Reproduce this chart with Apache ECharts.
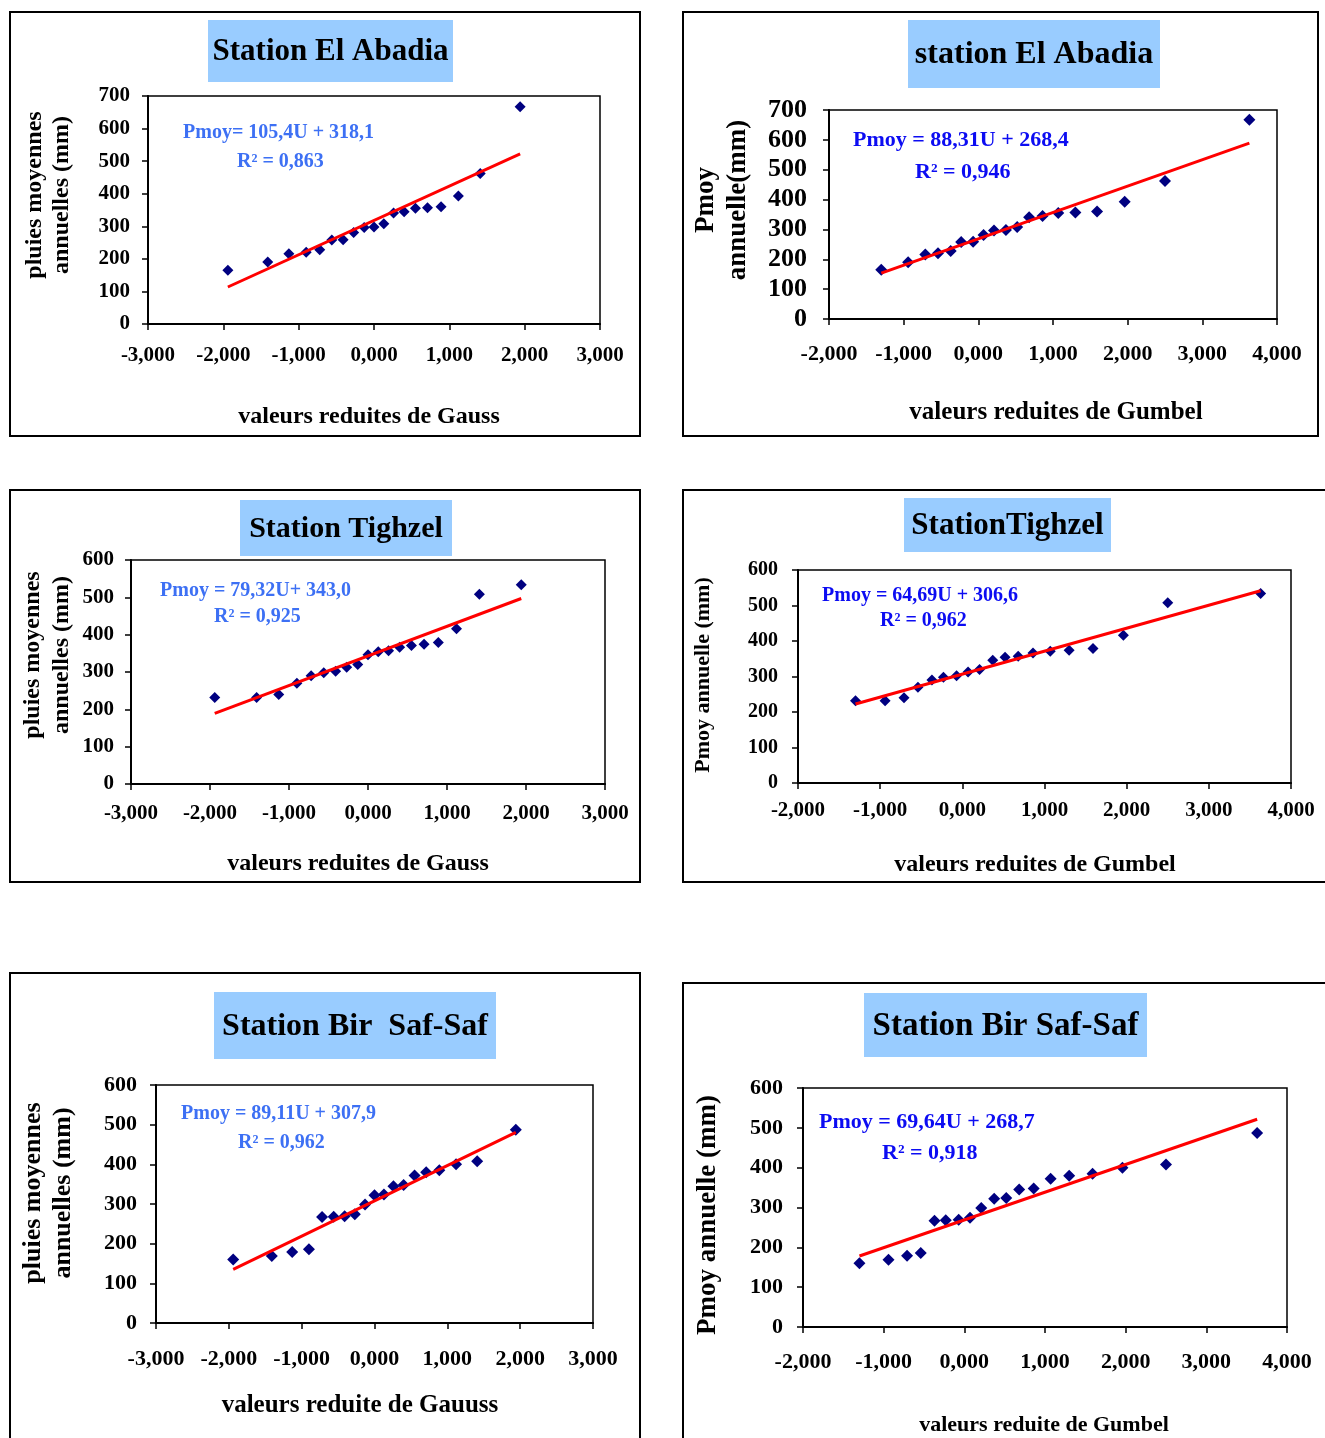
<!DOCTYPE html>
<html>
<head>
<meta charset="utf-8">
<script src="https://cdn.jsdelivr.net/npm/echarts@6/dist/echarts.min.js"></script>
<style>
  html, body { margin: 0; padding: 0; background: #fff; }
  #chart { width: 1325px; height: 1438px; }
</style>
</head>
<body>
<div id="chart"></div>
<script>
// Reduced variables U (Gauss and Gumbel), 19 ranked years
const gaussU  = [-1.94, -1.41, -1.13, -0.90, -0.72, -0.56, -0.41, -0.27, -0.13, 0.00,
                 0.13, 0.26, 0.40, 0.55, 0.71, 0.89, 1.12, 1.41, 1.94];
const gumbelU = [-1.30, -0.94, -0.71, -0.54, -0.37, -0.23, -0.07, 0.07, 0.21, 0.37,
                 0.52, 0.68, 0.86, 1.07, 1.30, 1.59, 1.96, 2.50, 3.63];

// Ranked mean annual rainfall (mm) per station
const abadiaP = [165, 190, 216, 220, 228, 258, 259, 281, 296, 298, 308, 341, 345, 355, 357, 360, 393, 462, 667];
const tighzelP = [232, 232, 240, 270, 290, 298, 302, 313, 320, 346, 354, 357, 366, 371, 374, 379, 416, 508, 534];
const safsafP = [160, 169, 179, 186, 267, 268, 269, 274, 299, 322, 324, 345, 348, 372, 380, 385, 400, 408, 487];

// Panel texts
const panelTitles = ['Station El Abadia', 'station El Abadia', 'Station Tighzel',
                     'StationTighzel', 'Station Bir  Saf-Saf', 'Station Bir Saf-Saf'];
const xAxisNames = ['valeurs reduites de Gauss', 'valeurs reduites de Gumbel',
                    'valeurs reduites de Gauss', 'valeurs reduites de Gumbel',
                    'valeurs reduite de Gauuss', 'valeurs reduite de Gumbel'];
const yAxisNames = [['pluies moyennes', 'annuelles (mm)'], ['Pmoy', 'annuelle(mm)'],
                    ['pluies moyennes', 'annuelles (mm)'], ['Pmoy annuelle (mm)'],
                    ['pluies moyennes', 'annuelles (mm)'], ['Pmoy annuelle (mm)']];

// Fitted lines Pmoy = a*U + b and their R²
const slopes = [105.4, 88.31, 79.32, 64.69, 89.11, 69.64];
const slopeDigits = [1, 2, 2, 2, 2, 2];
const intercepts = [318.1, 268.4, 343.0, 306.6, 307.9, 268.7];
const r2Values = [0.863, 0.946, 0.925, 0.962, 0.962, 0.918];

// Axis ranges
const xRanges = [[-3, 3], [-2, 4], [-3, 3], [-2, 4], [-3, 3], [-2, 4]];
const yMaxes = [700, 700, 600, 600, 600, 600];

const panelU = [gaussU, gumbelU, gaussU, gumbelU, gaussU, gumbelU];
const panelP = [abadiaP, abadiaP, tighzelP, tighzelP, safsafP, safsafP];

// Page layout of each panel (pixels)
const layout = [
  { frame: [10, 12, 630, 424], title: [208, 20, 245, 62, 31], grid: [148, 96, 452, 228],
    yLab: { size: 21, gap: 18 }, xLab: { size: 21, cy: 357 }, xName: [369, 417, 24],
    yName: { xs: [35, 62], cy: 195, size: 24 }, eqPrefix: 'Pmoy= ', eqMid: 'U + ',
    eq: [183, 133, 237, 162, 20], eqColor: '#3D70F4', sym: 11 },
  { frame: [683, 12, 635, 424], title: [908, 20, 252, 68, 32], grid: [829, 110, 448, 209],
    yLab: { size: 26, gap: 22 }, xLab: { size: 22, cy: 355 }, xName: [1056, 413, 25],
    yName: { xs: [706, 738], cy: 200, size: 27 }, eqPrefix: 'Pmoy = ', eqMid: 'U + ',
    eq: [853, 140, 915, 172, 22], eqColor: '#0C0CF2', sym: 12 },
  { frame: [10, 490, 630, 392], title: [240, 500, 212, 56, 30], grid: [131, 560, 474, 224],
    yLab: { size: 21, gap: 17 }, xLab: { size: 21, cy: 815 }, xName: [358, 864, 24],
    yName: { xs: [33, 62], cy: 655, size: 24 }, eqPrefix: 'Pmoy = ', eqMid: 'U+ ',
    eq: [160, 591, 214, 617, 20], eqColor: '#3D70F4', sym: 11 },
  { frame: [683, 490, 650, 392], title: [904, 498, 207, 54, 31], grid: [798, 570, 493, 213],
    yLab: { size: 20, gap: 20 }, xLab: { size: 21, cy: 812 }, xName: [1035, 865, 24],
    yName: { xs: [703], cy: 675, size: 22 }, eqPrefix: 'Pmoy = ', eqMid: 'U + ',
    eq: [822, 596, 880, 621, 20], eqColor: '#0C0CF2', sym: 11 },
  { frame: [10, 973, 630, 480], title: [214, 992, 282, 67, 32], grid: [156, 1085, 437, 238],
    yLab: { size: 22, gap: 19 }, xLab: { size: 22, cy: 1360 }, xName: [360, 1406, 25],
    yName: { xs: [33, 63], cy: 1193, size: 26 }, eqPrefix: 'Pmoy = ', eqMid: 'U + ',
    eq: [181, 1114, 238, 1143, 20], eqColor: '#3D70F4', sym: 12 },
  { frame: [683, 983, 650, 470], title: [864, 993, 283, 64, 33], grid: [803, 1088, 484, 239],
    yLab: { size: 22, gap: 20 }, xLab: { size: 22, cy: 1363 }, xName: [1044, 1425, 22],
    yName: { xs: [708], cy: 1215, size: 27 }, eqPrefix: 'Pmoy = ', eqMid: 'U + ',
    eq: [819, 1122, 882, 1153, 22], eqColor: '#0C0CF2', sym: 12 }
];

const FONT = "'Liberation Serif', 'Times New Roman', serif";
const comma = (v, d) => v.toFixed(d).replace('.', ',');
const font = (size) => 'bold ' + size + 'px ' + FONT;

function textEl(text, x, y, size, color, align, rotate) {
  return {
    type: 'text', x: x, y: y, rotation: rotate ? Math.PI / 2 : 0, z: 10,
    style: {
      text: text, font: font(size), fill: color,
      align: align, verticalAlign: 'middle',
      textAlign: align, textVerticalAlign: 'middle'
    }
  };
}

const grids = [], xAxes = [], yAxes = [], series = [], graphics = [];

layout.forEach((L, i) => {
  const [gl, gt, gw, gh] = L.grid;
  grids.push({ left: gl, top: gt, width: gw, height: gh, show: true,
               borderColor: '#000', borderWidth: 1.5, backgroundColor: '#fff' });

  xAxes.push({
    type: 'value', gridIndex: i, min: xRanges[i][0], max: xRanges[i][1], interval: 1,
    splitLine: { show: false },
    axisLine: { onZero: false, lineStyle: { color: '#000', width: 2 } },
    axisTick: { length: 6, lineStyle: { color: '#000', width: 1.5 } },
    axisLabel: { color: '#000', fontFamily: FONT, fontWeight: 'bold', fontSize: L.xLab.size,
                 margin: L.xLab.cy - (gt + gh) - L.xLab.size / 2 - 1,
                 formatter: (v) => comma(v, 3) }
  });

  yAxes.push({
    type: 'value', gridIndex: i, min: 0, max: yMaxes[i], interval: 100,
    splitLine: { show: false },
    axisLine: { onZero: false, lineStyle: { color: '#000', width: 2 } },
    axisTick: { length: 6, lineStyle: { color: '#000', width: 1.5 } },
    axisLabel: { color: '#000', fontFamily: FONT, fontWeight: 'bold', fontSize: L.yLab.size,
                 margin: L.yLab.gap }
  });

  const U = panelU[i], P = panelP[i];
  series.push({
    type: 'scatter', xAxisIndex: i, yAxisIndex: i, symbol: 'diamond', symbolSize: L.sym,
    itemStyle: { color: '#000080', opacity: 1 }, z: 3,
    data: U.map((u, k) => [u, P[k]])
  });

  const uMin = Math.min(...U), uMax = Math.max(...U);
  series.push({
    type: 'line', xAxisIndex: i, yAxisIndex: i, symbol: 'none', z: 4,
    lineStyle: { color: '#FF0000', width: 3 },
    data: [[uMin, slopes[i] * uMin + intercepts[i]], [uMax, slopes[i] * uMax + intercepts[i]]]
  });

  // panel frame
  const [fx, fy, fw, fh] = L.frame;
  graphics.push({ type: 'rect', shape: { x: fx, y: fy, width: fw, height: fh }, z: 0,
                  style: { fill: 'none', stroke: '#000', lineWidth: 2 } });

  // title box
  const [tx, ty, tw, th, ts] = L.title;
  graphics.push({ type: 'rect', shape: { x: tx, y: ty, width: tw, height: th }, z: 5,
                  style: { fill: '#99CCFF' } });
  graphics.push(textEl(panelTitles[i], tx + tw / 2, ty + th / 2 + 1, ts, '#000', 'center', false));

  // axis names
  graphics.push(textEl(xAxisNames[i], L.xName[0], L.xName[1], L.xName[2], '#000', 'center', false));
  yAxisNames[i].forEach((line, k) => {
    graphics.push(textEl(line, L.yName.xs[k], L.yName.cy, L.yName.size, '#000', 'center', true));
  });

  // regression equation
  const eqText = L.eqPrefix + comma(slopes[i], slopeDigits[i]) + L.eqMid + comma(intercepts[i], 1);
  graphics.push(textEl(eqText, L.eq[0], L.eq[1], L.eq[4], L.eqColor, 'left', false));
  graphics.push(textEl('R² = ' + comma(r2Values[i], 3), L.eq[2], L.eq[3], L.eq[4], L.eqColor, 'left', false));
});

const chart = echarts.init(document.getElementById('chart'), null, { renderer: 'canvas' });
chart.setOption({
  animation: false,
  backgroundColor: '#fff',
  grid: grids,
  xAxis: xAxes,
  yAxis: yAxes,
  series: series,
  graphic: { elements: graphics }
});
</script>
</body>
</html>
